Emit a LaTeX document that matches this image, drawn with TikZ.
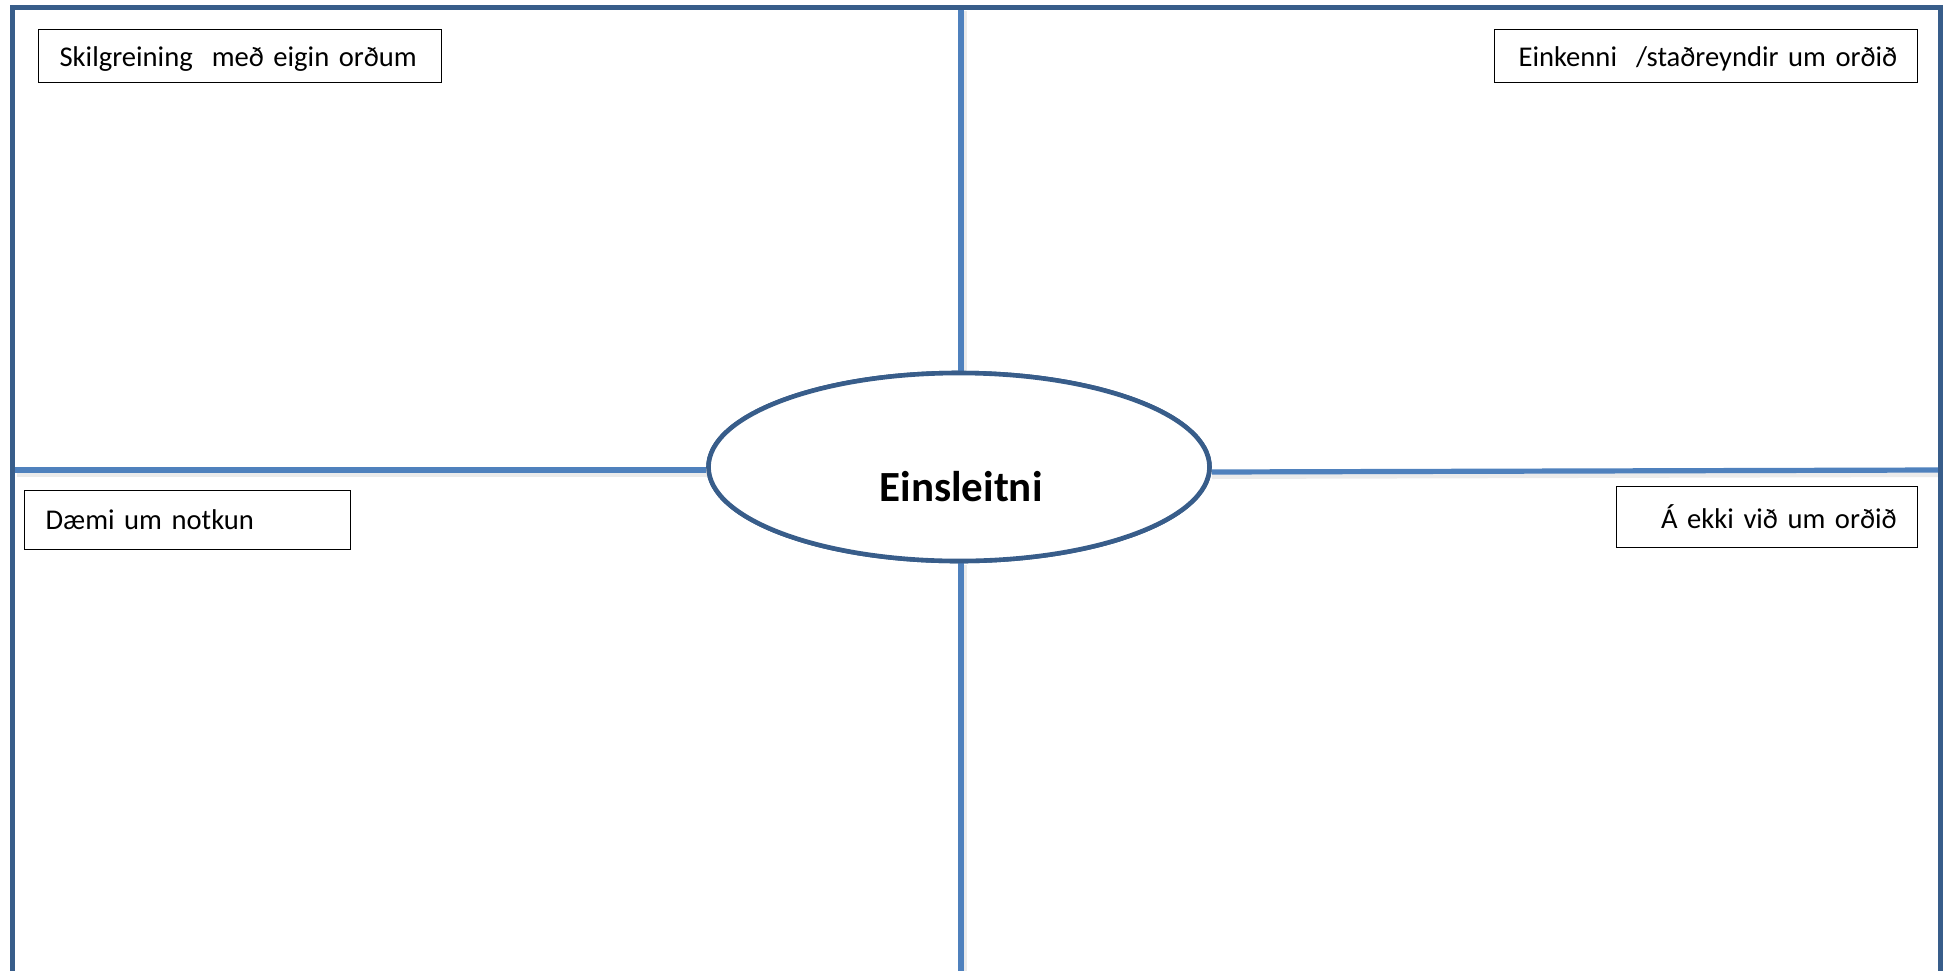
\documentclass[tikz,border=0pt]{standalone}
\usepackage{fontspec}
\setmainfont{Carlito}
\usetikzlibrary{shapes.geometric}
\definecolor{frameblue}{HTML}{385D8A}
\definecolor{lineblue}{HTML}{4F81BD}
\begin{document}
\begin{tikzpicture}[x=0.5pt,y=-0.5pt,
  frame/.style={draw=frameblue, line width=2.5pt},
  divider/.style={draw=lineblue, line width=2.6pt},
  dshadow/.style={draw=black!8, line width=4pt},
  labelbox/.style={draw=black, line width=0.6pt, fill=white,
    font=\fontsize{14.3}{17}\selectfont, inner xsep=10.5pt, inner ysep=0pt,
    anchor=north west},
  hub/.style={ellipse, draw=frameblue, line width=2.3pt, fill=white,
    minimum width=250.5pt, minimum height=94pt, inner sep=0pt},
  hubtext/.style={font=\fontsize{21.5}{26}\selectfont\bfseries, inner sep=0pt}
]
\useasboundingbox (0,0) rectangle (1949,970);
% frame corners and divider ends
\coordinate (fbl) at (12.5,980);
\coordinate (ftl) at (12.5,7);
\coordinate (ftr) at (1940,7);
\coordinate (fbr) at (1940,980);
\coordinate (vt) at (961,9);
\coordinate (vb) at (961,980);
\coordinate (hl) at (15,470);
\coordinate (hr) at (1938,470);
\coordinate (hre) at (1200,472);
% centre ellipse
\node[hub] (hub) at (959,467) {};
% dividers (shadow first)
\draw[dshadow] ([shift={(2,2)}]vt) -- ([shift={(2,2)}]vt |- hub.north);
\draw[dshadow] ([shift={(2,2)}]vt |- hub.south) -- ([shift={(2,2)}]vb);
\draw[dshadow] ([shift={(2,3)}]hl) -- ([shift={(2,3)}]hl -| hub.west);
\draw[dshadow] ([shift={(0,3)}]hre -| hub.east) -- ([shift={(0,3)}]hr);
\draw[divider] (vt) -- (vt |- hub.north);
\draw[divider] (vt |- hub.south) -- (vb);
\draw[divider] (hl) -- (hl -| hub.west);
\draw[divider] (hre -| hub.east) -- (hr);
% redraw ellipse on top
\node[hub] (hubtop) at (959,467) {};
\node[hubtext] (title) at (961,487) {Einsleitni};
% outer frame
\draw[frame] (fbl) -- (ftl) -- (ftr) -- (fbr);
% label boxes
\node[labelbox, minimum height=26.5pt, text depth=0pt, text width=180.5pt, align=left] (def) at (38,29) {\mbox{Skilgreining\ \ með eigin orðum}};
\node[labelbox, minimum height=26.5pt, text depth=0pt, text width=187.5pt, inner xsep=12pt, align=left] (fact) at (1494,29) {\mbox{Einkenni\ \ /staðreyndir um orðið}};
\node[labelbox, minimum height=29.5pt, text width=142pt, align=left] (ex) at (24,490) {\mbox{Dæmi um notkun}};
\node[labelbox, minimum height=30.5pt, text width=129.5pt, align=right] (non) at (1616,486) {\mbox{Á ekki við um orðið}};
\end{tikzpicture}
\end{document}
